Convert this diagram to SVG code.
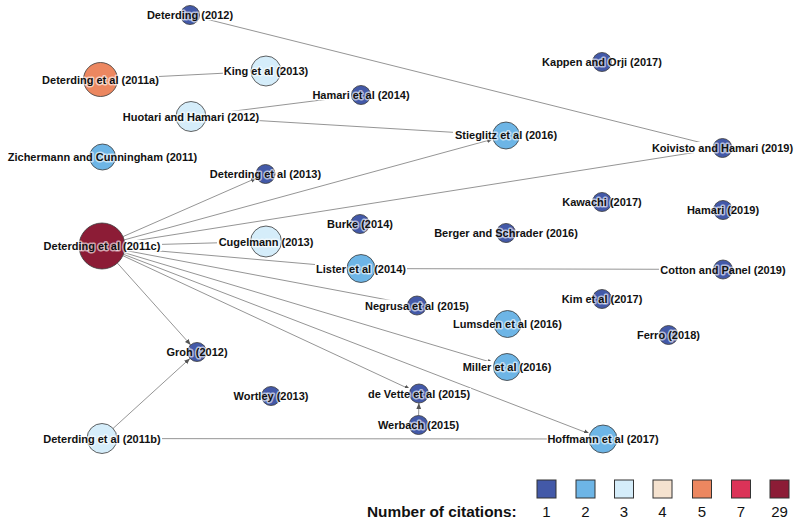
<svg xmlns="http://www.w3.org/2000/svg" width="800" height="525" viewBox="0 0 800 525">
<style>
.bg{fill:#ffffff}
.edge{stroke:#7a7a7a;stroke-width:0.8;fill:none;marker-end:url(#arr)}
.mask{fill:#ffffff}
circle{stroke:#3a3a3a;stroke-width:0.8}
.c1{fill:#4359a8}.c2{fill:#6db5e6}.c3{fill:#d5edfa}.c4{fill:#f5e2cf}.c5{fill:#ec8760}.c7{fill:#db3358}.c29{fill:#8c1c36}
.lbl{font-family:"Liberation Sans",Arial,sans-serif;font-weight:bold;font-size:11px;fill:#111;text-anchor:middle;stroke:#ffffff;stroke-opacity:0.62;stroke-width:3;stroke-linejoin:round;paint-order:stroke}
.sq{stroke:#333;stroke-width:1}
.ltitle{font-family:"Liberation Sans",Arial,sans-serif;font-weight:bold;font-size:15.4px;fill:#111}
.lnum{font-family:"Liberation Sans",Arial,sans-serif;font-size:15px;fill:#111;text-anchor:middle}
</style>
<defs>
<marker id="arr" viewBox="0 0 10 10" refX="10" refY="5" markerWidth="6" markerHeight="6" markerUnits="userSpaceOnUse" orient="auto">
<path d="M0,1 L10,5 L0,9 z" fill="#555"/>
</marker>
</defs>
<rect class="bg" x="0" y="0" width="800" height="525"/>
<g id="edges">
<line class="edge" x1="199.2" y1="17.3" x2="713.3" y2="145.7"/>
<line class="edge" x1="117.5" y1="78.6" x2="251.0" y2="71.8"/>
<line class="edge" x1="205.9" y1="114.6" x2="351.6" y2="96.2"/>
<line class="edge" x1="206.0" y1="117.4" x2="492.5" y2="134.7"/>
<line class="edge" x1="123.0" y1="236.6" x2="256.8" y2="177.9"/>
<line class="edge" x1="124.2" y1="239.9" x2="493.0" y2="139.1"/>
<line class="edge" x1="124.7" y1="242.4" x2="713.1" y2="149.5"/>
<line class="edge" x1="125.0" y1="245.4" x2="250.5" y2="241.9"/>
<line class="edge" x1="124.9" y1="248.0" x2="347.1" y2="267.3"/>
<line class="edge" x1="375.0" y1="268.6" x2="713.5" y2="269.4"/>
<line class="edge" x1="124.6" y1="250.3" x2="407.7" y2="303.7"/>
<line class="edge" x1="124.0" y1="252.6" x2="493.6" y2="363.0"/>
<line class="edge" x1="123.5" y1="254.3" x2="589.9" y2="434.0"/>
<line class="edge" x1="122.9" y1="255.7" x2="410.4" y2="389.5"/>
<line class="edge" x1="117.4" y1="263.1" x2="190.7" y2="344.9"/>
<line class="edge" x1="113.1" y1="428.4" x2="190.0" y2="358.4"/>
<line class="edge" x1="117.0" y1="438.6" x2="589.0" y2="439.0"/>
<line class="edge" x1="418.6" y1="415.5" x2="418.9" y2="403.0"/>
</g>
<g id="n-deterding2012"><rect class="mask" x="147" y="10" width="87" height="10"/><circle class="c1" cx="190" cy="15" r="9.5"/><text class="lbl" x="190" y="19">Deterding (2012)</text></g>
<g id="n-deterding2011a"><rect class="mask" x="41" y="73.5" width="118" height="11"/><circle class="c5" cx="100.5" cy="79.5" r="17"/><text class="lbl" x="100.5" y="83.5">Deterding et al (2011a)</text></g>
<g id="n-king2013"><rect class="mask" x="223" y="65" width="86" height="11"/><circle class="c3" cx="266" cy="71" r="15"/><text class="lbl" x="266" y="75">King et al (2013)</text></g>
<g id="n-huotari2012"><rect class="mask" x="121" y="110.5" width="138" height="11"/><circle class="c3" cx="191" cy="116.5" r="15"/><text class="lbl" x="191" y="120.5">Huotari and Hamari (2012)</text></g>
<g id="n-hamari2014"><rect class="mask" x="312" y="89" width="99" height="11"/><circle class="c1" cx="361" cy="95" r="9.5"/><text class="lbl" x="361" y="99">Hamari et al (2014)</text></g>
<g id="n-zichermann2011"><rect class="mask" x="6" y="151" width="194" height="11"/><circle class="c2" cx="102.5" cy="157" r="13"/><text class="lbl" x="102.5" y="161">Zichermann and Cunningham (2011)</text></g>
<g id="n-deterding2013"><rect class="mask" x="209" y="168" width="113" height="10"/><circle class="c1" cx="265.5" cy="174" r="9.5"/><text class="lbl" x="265.5" y="177.5">Deterding et al (2013)</text></g>
<g id="n-kappen2017"><rect class="mask" x="541" y="56" width="122" height="11"/><circle class="c1" cx="602" cy="62" r="9.5"/><text class="lbl" x="602" y="66">Kappen and Orji (2017)</text></g>
<g id="n-stieglitz2016"><rect class="mask" x="453" y="129.5" width="105" height="10"/><circle class="c2" cx="506" cy="135.5" r="13.5"/><text class="lbl" x="506" y="139">Stieglitz et al (2016)</text></g>
<g id="n-koivisto2019"><rect class="mask" x="651" y="142" width="143" height="11"/><circle class="c1" cx="722.5" cy="148" r="9.5"/><text class="lbl" x="722.5" y="152">Koivisto and Hamari (2019)</text></g>
<g id="n-deterding2011c"><rect class="mask" x="42" y="240" width="120" height="11"/><circle class="c29" cx="102" cy="246" r="23"/><text class="lbl" x="102" y="250">Deterding et al (2011c)</text></g>
<g id="n-cugelmann2013"><rect class="mask" x="217" y="235.5" width="97" height="11"/><circle class="c3" cx="266" cy="241.5" r="15.5"/><text class="lbl" x="266" y="245.5">Cugelmann (2013)</text></g>
<g id="n-burke2014"><rect class="mask" x="327" y="218" width="67" height="11"/><circle class="c1" cx="360" cy="224" r="9.5"/><text class="lbl" x="360" y="228">Burke (2014)</text></g>
<g id="n-lister2014"><rect class="mask" x="315" y="262.5" width="92" height="11"/><circle class="c2" cx="361" cy="268.5" r="14"/><text class="lbl" x="361" y="272.5">Lister et al (2014)</text></g>
<g id="n-kawachi2017"><rect class="mask" x="561" y="196" width="81" height="11"/><circle class="c1" cx="602" cy="202" r="9.5"/><text class="lbl" x="602" y="206">Kawachi (2017)</text></g>
<g id="n-hamari2019"><rect class="mask" x="687" y="204" width="73" height="11"/><circle class="c1" cx="723" cy="210" r="9.5"/><text class="lbl" x="723" y="214">Hamari (2019)</text></g>
<g id="n-berger2016"><rect class="mask" x="434" y="227" width="145" height="11"/><circle class="c1" cx="506" cy="233" r="9.5"/><text class="lbl" x="506" y="237">Berger and Schrader (2016)</text></g>
<g id="n-cotton2019"><rect class="mask" x="659" y="263.5" width="129" height="11"/><circle class="c1" cx="723" cy="269.5" r="9.5"/><text class="lbl" x="723" y="273.5">Cotton and Panel (2019)</text></g>
<g id="n-negrusa2015"><rect class="mask" x="364" y="299.5" width="105" height="11"/><circle class="c1" cx="417" cy="305.5" r="9.5"/><text class="lbl" x="417" y="309.5">Negrusa et al (2015)</text></g>
<g id="n-kim2017"><rect class="mask" x="561" y="293" width="83" height="11"/><circle class="c1" cx="602" cy="299" r="9.5"/><text class="lbl" x="602" y="303">Kim et al (2017)</text></g>
<g id="n-lumsden2016"><rect class="mask" x="452" y="318" width="111" height="11"/><circle class="c2" cx="507.5" cy="324" r="13.5"/><text class="lbl" x="507.5" y="328">Lumsden et al (2016)</text></g>
<g id="n-ferro2018"><rect class="mask" x="637" y="329" width="63" height="11"/><circle class="c1" cx="668.5" cy="335" r="9.5"/><text class="lbl" x="668.5" y="339">Ferro (2018)</text></g>
<g id="n-miller2016"><rect class="mask" x="462" y="361" width="91" height="11"/><circle class="c2" cx="507" cy="367" r="13.5"/><text class="lbl" x="507" y="371">Miller et al (2016)</text></g>
<g id="n-groh2012"><rect class="mask" x="165" y="346.5" width="63" height="10"/><circle class="c1" cx="197" cy="352" r="9.5"/><text class="lbl" x="197" y="356">Groh (2012)</text></g>
<g id="n-devette2015"><rect class="mask" x="367" y="388" width="104" height="10"/><circle class="c1" cx="419" cy="393.5" r="9.5"/><text class="lbl" x="419" y="397.5">de Vette et al (2015)</text></g>
<g id="n-werbach2015"><rect class="mask" x="377" y="419" width="83" height="11"/><circle class="c1" cx="418.5" cy="425" r="9.5"/><text class="lbl" x="418.5" y="429">Werbach (2015)</text></g>
<g id="n-wortley2013"><rect class="mask" x="232" y="390" width="77" height="11"/><circle class="c1" cx="271" cy="396" r="9.5"/><text class="lbl" x="271" y="400">Wortley (2013)</text></g>
<g id="n-deterding2011b"><rect class="mask" x="42" y="432.5" width="120" height="11"/><circle class="c3" cx="102" cy="438.5" r="15"/><text class="lbl" x="102" y="442.5">Deterding et al (2011b)</text></g>
<g id="n-hoffmann2017"><rect class="mask" x="547" y="433" width="112" height="11"/><circle class="c2" cx="603" cy="439" r="14"/><text class="lbl" x="603" y="443">Hoffmann et al (2017)</text></g>
<g id="legend">
<text class="ltitle" x="367" y="517">Number of citations:</text>
<rect class="sq c1" x="537" y="480" width="19" height="18"/>
<rect class="sq c2" x="576" y="480" width="19" height="18"/>
<rect class="sq c3" x="614.5" y="480" width="19" height="18"/>
<rect class="sq c4" x="653" y="480" width="19" height="18"/>
<rect class="sq c5" x="692.5" y="480" width="19" height="18"/>
<rect class="sq c7" x="731.5" y="480" width="19" height="18"/>
<rect class="sq c29" x="770" y="480" width="19" height="18"/>
<text class="lnum" x="546.5" y="517">1</text>
<text class="lnum" x="585.5" y="517">2</text>
<text class="lnum" x="624" y="517">3</text>
<text class="lnum" x="662.5" y="517">4</text>
<text class="lnum" x="702" y="517">5</text>
<text class="lnum" x="741" y="517">7</text>
<text class="lnum" x="779.5" y="517">29</text>
</g>
</svg>
